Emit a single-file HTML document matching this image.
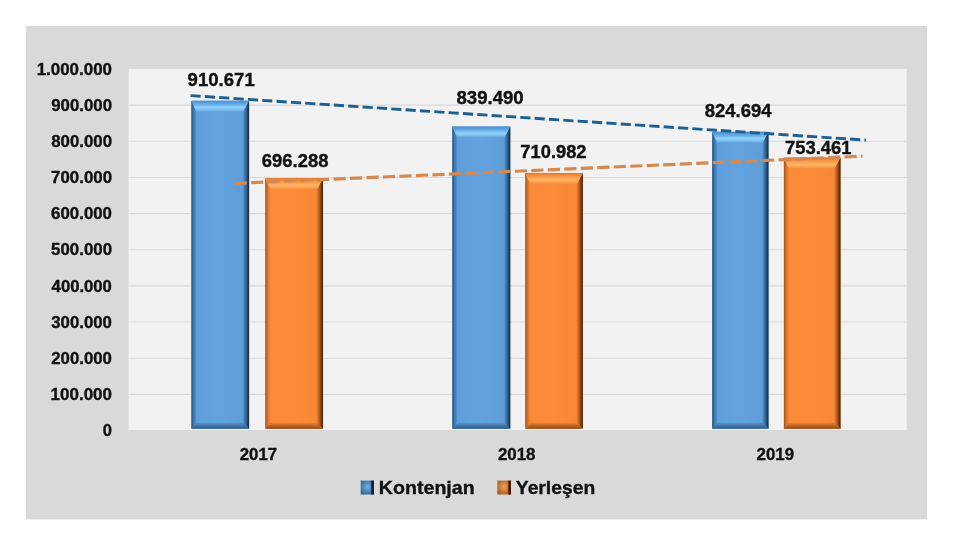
<!DOCTYPE html>
<html><head><meta charset="utf-8"><style>
html,body{margin:0;padding:0;background:#fff;}
svg{display:block;filter:blur(0.4px);}
text{font-family:"Liberation Sans",sans-serif;font-weight:bold;fill:#111111;stroke:#111111;stroke-width:0.35px;}
</style></head><body>
<svg width="960" height="545" viewBox="0 0 960 545">
<defs>
<linearGradient id="mb" x1="0" x2="1" y1="0" y2="0">
 <stop offset="0" stop-color="#5e9fdb"/><stop offset="0.5" stop-color="#62a3df"/><stop offset="1" stop-color="#5c9bd6"/>
</linearGradient>
<linearGradient id="mo" x1="0" x2="1" y1="0" y2="0">
 <stop offset="0" stop-color="#f98a38"/><stop offset="0.5" stop-color="#fb8b39"/><stop offset="1" stop-color="#f48634"/>
</linearGradient>
<linearGradient id="lb" x1="0" x2="1" y1="0" y2="0">
 <stop offset="0" stop-color="#28568a"/><stop offset="0.5" stop-color="#3f78b2"/><stop offset="1" stop-color="#5796d1"/>
</linearGradient>
<linearGradient id="lo" x1="0" x2="1" y1="0" y2="0">
 <stop offset="0" stop-color="#a4521a"/><stop offset="0.5" stop-color="#d8732b"/><stop offset="1" stop-color="#f68937"/>
</linearGradient>
<linearGradient id="rb" x1="0" x2="1" y1="0" y2="0">
 <stop offset="0" stop-color="#5592cb"/><stop offset="0.5" stop-color="#34628f"/><stop offset="1" stop-color="#13283e"/>
</linearGradient>
<linearGradient id="ro" x1="0" x2="1" y1="0" y2="0">
 <stop offset="0" stop-color="#ea7e30"/><stop offset="0.5" stop-color="#a8521a"/><stop offset="1" stop-color="#3c1804"/>
</linearGradient>
<linearGradient id="btb" x1="0" x2="0" y1="0" y2="1">
 <stop offset="0" stop-color="#5894cd"/><stop offset="1" stop-color="#2e5987"/>
</linearGradient>
<linearGradient id="bto" x1="0" x2="0" y1="0" y2="1">
 <stop offset="0" stop-color="#ee8334"/><stop offset="1" stop-color="#8e4516"/>
</linearGradient>
<linearGradient id="hb" x1="0" x2="0" y1="0" y2="1">
 <stop offset="0" stop-color="#4b8dcc"/><stop offset="0.25" stop-color="#5ea4e1"/><stop offset="0.62" stop-color="#8ed3fb"/><stop offset="0.82" stop-color="#7bc0f1"/><stop offset="1" stop-color="#62a4df"/>
</linearGradient>
<linearGradient id="ho" x1="0" x2="0" y1="0" y2="1">
 <stop offset="0" stop-color="#e0782c"/><stop offset="0.25" stop-color="#f49040"/><stop offset="0.62" stop-color="#ffb565"/><stop offset="0.82" stop-color="#fda352"/><stop offset="1" stop-color="#fb8c3a"/>
</linearGradient>
<radialGradient id="sqb" cx="0.5" cy="0.45" r="0.65">
 <stop offset="0" stop-color="#72b0e6"/><stop offset="1" stop-color="#2f5f92"/>
</radialGradient>
<radialGradient id="sqo" cx="0.5" cy="0.45" r="0.65">
 <stop offset="0" stop-color="#f3a058"/><stop offset="1" stop-color="#a8561c"/>
</radialGradient>
</defs>
<rect x="0" y="0" width="960" height="545" fill="#ffffff"/>
<rect x="26" y="26" width="901" height="493.4" fill="#d9d9d9"/>

<rect x="128.5" y="68.9" width="778.2" height="361.10" fill="#f2f2f2"/>
<line x1="128.5" x2="906.7" y1="105.10" y2="105.10" stroke="#d9d9d9" stroke-width="1.1"/>
<line x1="128.5" x2="906.7" y1="141.26" y2="141.26" stroke="#d9d9d9" stroke-width="1.1"/>
<line x1="128.5" x2="906.7" y1="177.43" y2="177.43" stroke="#d9d9d9" stroke-width="1.1"/>
<line x1="128.5" x2="906.7" y1="213.59" y2="213.59" stroke="#d9d9d9" stroke-width="1.1"/>
<line x1="128.5" x2="906.7" y1="249.75" y2="249.75" stroke="#d9d9d9" stroke-width="1.1"/>
<line x1="128.5" x2="906.7" y1="285.91" y2="285.91" stroke="#d9d9d9" stroke-width="1.1"/>
<line x1="128.5" x2="906.7" y1="322.07" y2="322.07" stroke="#d9d9d9" stroke-width="1.1"/>
<line x1="128.5" x2="906.7" y1="358.24" y2="358.24" stroke="#d9d9d9" stroke-width="1.1"/>
<line x1="128.5" x2="906.7" y1="394.40" y2="394.40" stroke="#d9d9d9" stroke-width="1.1"/>
<rect x="191.40" y="100.69" width="57.70" height="328.01" fill="url(#mb)"/>
<polygon points="191.40,100.69 196.40,111.69 196.40,422.70 191.40,428.70" fill="url(#lb)"/>
<polygon points="249.10,100.69 243.10,111.69 243.10,422.70 249.10,428.70" fill="url(#rb)"/>
<polygon points="191.40,428.70 249.10,428.70 243.10,422.70 196.40,422.70" fill="url(#btb)"/>
<polygon points="191.40,100.69 249.10,100.69 243.10,111.69 196.40,111.69" fill="url(#hb)"/>
<rect x="265.30" y="178.22" width="57.70" height="250.48" fill="url(#mo)"/>
<polygon points="265.30,178.22 270.30,189.22 270.30,422.70 265.30,428.70" fill="url(#lo)"/>
<polygon points="323.00,178.22 317.00,189.22 317.00,422.70 323.00,428.70" fill="url(#ro)"/>
<polygon points="265.30,428.70 323.00,428.70 317.00,422.70 270.30,422.70" fill="url(#bto)"/>
<polygon points="265.30,178.22 323.00,178.22 317.00,189.22 270.30,189.22" fill="url(#ho)"/>
<rect x="452.30" y="126.43" width="58.00" height="302.27" fill="url(#mb)"/>
<polygon points="452.30,126.43 457.30,137.43 457.30,422.70 452.30,428.70" fill="url(#lb)"/>
<polygon points="510.30,126.43 504.30,137.43 504.30,422.70 510.30,428.70" fill="url(#rb)"/>
<polygon points="452.30,428.70 510.30,428.70 504.30,422.70 457.30,422.70" fill="url(#btb)"/>
<polygon points="452.30,126.43 510.30,126.43 504.30,137.43 457.30,137.43" fill="url(#hb)"/>
<rect x="525.30" y="172.90" width="57.50" height="255.80" fill="url(#mo)"/>
<polygon points="525.30,172.90 530.30,183.90 530.30,422.70 525.30,428.70" fill="url(#lo)"/>
<polygon points="582.80,172.90 576.80,183.90 576.80,422.70 582.80,428.70" fill="url(#ro)"/>
<polygon points="525.30,428.70 582.80,428.70 576.80,422.70 530.30,422.70" fill="url(#bto)"/>
<polygon points="525.30,172.90 582.80,172.90 576.80,183.90 530.30,183.90" fill="url(#ho)"/>
<rect x="712.20" y="131.78" width="56.30" height="296.92" fill="url(#mb)"/>
<polygon points="712.20,131.78 717.20,142.78 717.20,422.70 712.20,428.70" fill="url(#lb)"/>
<polygon points="768.50,131.78 762.50,142.78 762.50,422.70 768.50,428.70" fill="url(#rb)"/>
<polygon points="712.20,428.70 768.50,428.70 762.50,422.70 717.20,422.70" fill="url(#btb)"/>
<polygon points="712.20,131.78 768.50,131.78 762.50,142.78 717.20,142.78" fill="url(#hb)"/>
<rect x="783.90" y="157.54" width="56.60" height="271.16" fill="url(#mo)"/>
<polygon points="783.90,157.54 788.90,168.54 788.90,422.70 783.90,428.70" fill="url(#lo)"/>
<polygon points="840.50,157.54 834.50,168.54 834.50,422.70 840.50,428.70" fill="url(#ro)"/>
<polygon points="783.90,428.70 840.50,428.70 834.50,422.70 788.90,422.70" fill="url(#bto)"/>
<polygon points="783.90,157.54 840.50,157.54 834.50,168.54 788.90,168.54" fill="url(#ho)"/>
<line x1="190.5" y1="95.6" x2="866" y2="140.1" stroke="#1d5f90" stroke-width="2.9" stroke-dasharray="10.2 4.17"/>
<line x1="234.6" y1="183.4" x2="862.6" y2="156.2" stroke="#d38850" stroke-width="3.2" stroke-dasharray="12.2 4.3"/>
<text x="187.60" y="85.80" font-size="17.65" textLength="67.14" lengthAdjust="spacingAndGlyphs">910.671</text>
<text x="261.82" y="167.30" font-size="17.65" textLength="66.71" lengthAdjust="spacingAndGlyphs">696.288</text>
<text x="456.46" y="104.35" font-size="17.57" textLength="67.20" lengthAdjust="spacingAndGlyphs">839.490</text>
<text x="520.38" y="158.05" font-size="17.49" textLength="66.11" lengthAdjust="spacingAndGlyphs">710.982</text>
<text x="704.65" y="116.50" font-size="17.53" textLength="66.89" lengthAdjust="spacingAndGlyphs">824.694</text>
<text x="784.99" y="153.60" font-size="17.64" textLength="66.43" lengthAdjust="spacingAndGlyphs">753.461</text>
<text x="239.78" y="459.70" font-size="15.75" textLength="37.40" lengthAdjust="spacingAndGlyphs">2017</text>
<text x="497.95" y="459.90" font-size="15.75" textLength="37.51" lengthAdjust="spacingAndGlyphs">2018</text>
<text x="756.54" y="459.95" font-size="15.75" textLength="37.49" lengthAdjust="spacingAndGlyphs">2019</text>
<text x="378.87" y="494.00" font-size="19.00" textLength="95.83" lengthAdjust="spacingAndGlyphs">Kontenjan</text>
<text x="515.85" y="494.00" font-size="19.00" textLength="79.34" lengthAdjust="spacingAndGlyphs">Yerleşen</text>
<text x="36.68" y="74.54" font-size="15.90" textLength="75.33" lengthAdjust="spacingAndGlyphs">1.000.000</text>
<text x="51.23" y="110.70" font-size="15.90" textLength="60.81" lengthAdjust="spacingAndGlyphs">900.000</text>
<text x="51.17" y="146.86" font-size="15.90" textLength="60.89" lengthAdjust="spacingAndGlyphs">800.000</text>
<text x="51.13" y="183.03" font-size="15.90" textLength="60.92" lengthAdjust="spacingAndGlyphs">700.000</text>
<text x="51.13" y="219.19" font-size="15.90" textLength="60.85" lengthAdjust="spacingAndGlyphs">600.000</text>
<text x="51.11" y="255.35" font-size="15.90" textLength="60.91" lengthAdjust="spacingAndGlyphs">500.000</text>
<text x="51.63" y="291.51" font-size="15.90" textLength="60.24" lengthAdjust="spacingAndGlyphs">400.000</text>
<text x="51.24" y="327.67" font-size="15.90" textLength="60.64" lengthAdjust="spacingAndGlyphs">300.000</text>
<text x="51.23" y="363.84" font-size="15.90" textLength="60.68" lengthAdjust="spacingAndGlyphs">200.000</text>
<text x="50.63" y="400.00" font-size="15.90" textLength="61.39" lengthAdjust="spacingAndGlyphs">100.000</text>
<text x="102.74" y="436.16" font-size="15.90" textLength="9.20" lengthAdjust="spacingAndGlyphs">0</text>
<rect x="360.7" y="480.6" width="13.2" height="13.9" fill="url(#sqb)"/><rect x="371.3" y="480.6" width="2.6" height="13.9" fill="#0e1e30"/>
<rect x="497.3" y="480.6" width="13.6" height="13.9" fill="url(#sqo)"/><rect x="508.3" y="480.6" width="2.6" height="13.9" fill="#3a1806"/>
</svg></body></html>
